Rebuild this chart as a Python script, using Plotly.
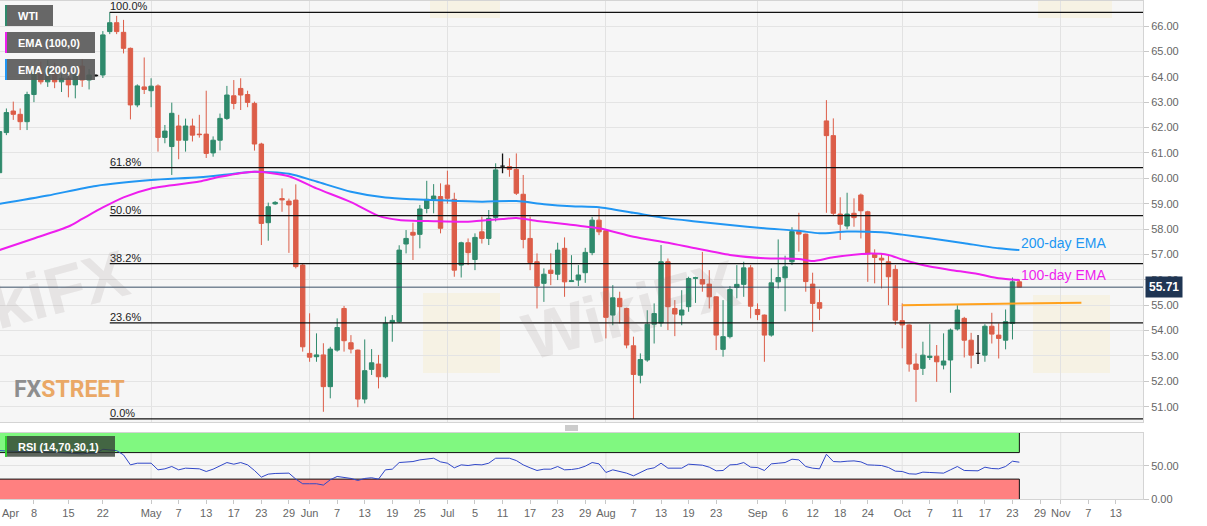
import pandas as pd
import plotly.graph_objects as go

# ---------------- data ----------------
FIRST_DAY = "2019-04-01"
AXIS_LAST_DAY = "2019-11-19"

OPEN = [60.22, 61.80, 62.65, 62.52, 62.23, 63.30, 64.13, 63.80, 64.30, 63.80,
        63.94, 63.68, 64.42, 63.87, 64.05, 64.07, 65.78, 66.13, 65.75, 65.12,
        62.89, 63.60, 63.45, 63.64, 61.61, 61.25, 62.06, 61.50, 62.06, 61.74,
        61.74, 61.00, 61.50, 62.36, 63.25, 63.54, 63.30, 62.95, 61.35, 58.25,
        58.99, 59.20, 59.10, 59.14, 56.58, 53.10, 52.97, 53.04, 51.79, 53.23,
        54.87, 53.52, 53.23, 51.30, 52.47, 52.68, 52.18, 54.31, 54.35, 57.41,
        57.87, 57.79, 58.81, 59.17, 59.28, 59.73, 59.17, 56.58, 57.46, 56.80,
        57.89, 57.63, 58.46, 60.48, 60.46, 60.35, 59.37, 57.63, 56.71, 55.86,
        56.38, 56.22, 57.24, 55.93, 55.99, 56.28, 57.07, 58.35, 57.93, 54.61,
        55.27, 54.87, 53.40, 52.24, 52.84, 54.25, 54.30, 56.71, 54.87, 54.61,
        54.94, 56.06, 56.01, 55.83, 55.33, 53.26, 53.76, 55.70, 55.82, 56.47,
        54.83, 54.61, 53.82, 55.92, 56.08, 56.71, 57.90, 57.80, 55.83, 55.10,
        62.26, 61.68, 58.59, 58.12, 58.62, 59.34, 58.68, 57.02, 56.85, 56.71,
        56.41, 54.39, 54.22, 52.68, 52.51, 52.94, 52.99, 52.64, 52.84, 54.06,
        54.48, 53.62, 53.10, 53.03, 54.17, 53.82, 53.62, 54.28, 55.92]
HIGH = [61.95, 62.75, 63.02, 62.75, 63.41, 64.40, 64.60, 64.65, 64.55, 64.10,
        64.20, 64.30, 64.70, 64.30, 64.10, 65.80, 66.54, 66.40, 66.24, 65.15,
        63.70, 64.76, 63.94, 63.70, 62.10, 62.98, 62.50, 62.35, 62.35, 62.50,
        63.45, 61.65, 62.55, 63.64, 63.87, 63.94, 63.45, 63.02, 61.40, 59.04,
        59.10, 59.60, 59.20, 59.76, 56.65, 54.68, 53.89, 53.50, 53.36, 54.48,
        54.97, 53.82, 53.25, 53.65, 53.27, 53.04, 54.55, 54.61, 57.36, 57.96,
        58.25, 58.95, 59.90, 59.77, 59.80, 60.30, 59.43, 57.50, 57.63, 57.83,
        58.49, 58.75, 60.59, 60.98, 60.79, 60.98, 60.13, 58.49, 57.04, 56.45,
        57.04, 57.46, 57.67, 56.97, 56.58, 57.26, 58.48, 58.81, 57.95, 55.79,
        55.53, 54.90, 53.76, 53.10, 54.80, 55.07, 57.37, 56.84, 55.20, 55.59,
        56.12, 56.12, 57.10, 56.38, 55.35, 55.20, 55.75, 56.58, 56.71, 56.58,
        55.07, 54.63, 56.45, 57.59, 56.95, 58.07, 58.64, 57.82, 56.28, 55.62,
        63.08, 62.36, 59.25, 59.43, 59.21, 59.40, 58.72, 57.20, 57.02, 56.98,
        56.58, 55.07, 54.25, 53.10, 53.56, 54.25, 53.43, 53.89, 54.08, 55.00,
        54.54, 53.91, 53.82, 54.25, 54.70, 54.28, 54.83, 56.09, 56.01]
LOW = [60.15, 61.70, 62.30, 61.90, 61.90, 63.00, 63.70, 63.60, 63.55, 63.40,
       63.19, 63.15, 63.60, 63.50, 64.00, 63.95, 65.68, 65.68, 64.92, 62.32,
       62.80, 63.32, 62.80, 61.05, 61.38, 60.13, 60.75, 61.05, 61.45, 61.60,
       60.80, 60.85, 61.10, 62.30, 62.72, 62.69, 62.80, 61.09, 57.37, 57.54,
       58.95, 58.68, 57.06, 56.45, 53.17, 52.77, 52.77, 50.80, 51.33, 53.17,
       53.17, 53.10, 50.98, 51.13, 52.25, 51.72, 52.12, 53.56, 54.30, 57.04,
       56.78, 57.24, 58.62, 58.62, 57.83, 59.00, 56.12, 56.09, 56.58, 56.38,
       57.43, 57.37, 58.30, 60.20, 60.06, 59.34, 57.24, 56.38, 54.87, 55.13,
       55.79, 55.99, 55.33, 55.92, 55.75, 55.88, 56.97, 57.76, 53.69, 54.21,
       54.28, 53.30, 50.52, 51.92, 52.77, 53.49, 54.15, 54.02, 53.78, 54.21,
       54.74, 55.09, 55.53, 54.87, 53.23, 52.97, 53.69, 55.27, 55.33, 54.48,
       54.41, 52.77, 53.76, 55.66, 54.76, 56.58, 57.11, 55.53, 53.95, 54.41,
       58.64, 58.55, 57.57, 57.99, 58.09, 57.63, 55.92, 55.86, 55.66, 55.00,
       54.22, 53.30, 52.38, 51.19, 52.25, 52.84, 51.98, 52.47, 51.55, 54.00,
       52.94, 52.51, 52.68, 52.77, 53.49, 52.90, 53.26, 53.65, 55.70]
CLOSE = [61.84, 62.59, 62.52, 62.23, 63.30, 64.13, 63.80, 64.35, 63.80, 63.94,
         63.68, 64.07, 63.87, 64.07, 64.05, 65.65, 66.13, 65.78, 65.12, 62.89,
         63.64, 63.50, 63.63, 61.61, 61.86, 62.56, 61.50, 62.06, 61.70, 61.72,
         60.98, 61.50, 62.36, 63.28, 62.95, 63.28, 62.99, 61.35, 58.22, 58.88,
         59.05, 59.15, 58.95, 56.52, 53.36, 52.95, 53.04, 51.79, 53.27, 54.12,
         53.60, 53.27, 51.30, 52.42, 52.73, 52.18, 54.29, 54.40, 57.17, 57.63,
         57.76, 58.79, 59.17, 59.30, 58.03, 59.21, 56.38, 57.46, 57.07, 57.67,
         57.63, 58.42, 60.33, 60.48, 60.35, 59.41, 57.59, 56.68, 55.75, 56.22,
         56.25, 57.17, 55.92, 55.96, 56.19, 57.08, 58.35, 57.89, 54.52, 55.29,
         54.94, 53.43, 52.27, 52.86, 54.25, 54.67, 56.71, 54.94, 54.65, 54.81,
         56.05, 56.08, 55.83, 55.33, 53.82, 53.76, 55.62, 55.82, 56.47, 54.96,
         54.63, 53.82, 55.88, 56.09, 56.51, 57.90, 57.80, 55.93, 55.07, 54.88,
         61.68, 58.62, 58.19, 58.59, 58.45, 58.72, 57.02, 56.88, 56.78, 56.12,
         54.41, 54.22, 52.68, 52.47, 53.03, 52.99, 52.77, 52.80, 54.02, 54.81,
         53.62, 53.03, 53.10, 54.17, 53.86, 53.69, 54.35, 55.92, 55.71]

RSI = [73, 73, 72, 71.5, 72, 72, 71.5, 71.5, 71, 70,
       69, 68.5, 68, 69, 69, 75, 74, 73, 66.5, 51.5,
       54, 54, 54, 44, 45.5, 49, 44, 46.5, 46, 45.5,
       41.5, 45, 50, 55, 52.5, 55, 51.5, 43, 33, 37.5,
       38.5, 39, 39, 30, 23, 23, 23, 21, 29, 34,
       33, 31, 28, 31, 32, 30, 44, 45, 55, 56,
       56.5, 59, 60.5, 61.5, 56, 54, 47, 51.5, 50.5, 52,
       51.5, 54, 61.5, 62, 61.5, 58, 51.5, 47, 43, 45,
       45, 49, 44, 44.5, 46, 49.5, 55, 53, 40, 44,
       41.5, 39, 35, 40, 45, 47, 54, 46.5, 46, 46.5,
       52.5, 52, 51, 48, 42.5, 43, 51.5, 52, 55, 48,
       47.5, 43, 53, 54, 55, 60, 59, 49, 46.5, 45.5,
       67.5, 56.5, 56, 57, 57.5, 56, 51.5, 51, 50.5, 47.5,
       42, 41.5, 38, 37.5, 40.5, 40, 39.5, 39, 44, 49,
       43, 42.5, 42.5, 48, 46, 45.5, 49, 57, 55.5]
RSI_LOW, RSI_HIGH = 30, 70

EMA100_DATES = ["2019-04-01", "2019-04-08", "2019-04-15", "2019-04-17", "2019-04-22",
                "2019-04-25", "2019-05-01", "2019-05-10", "2019-05-15", "2019-05-22",
                "2019-05-29", "2019-06-04", "2019-06-11", "2019-06-17", "2019-06-20",
                "2019-06-27", "2019-07-04", "2019-07-11", "2019-07-15", "2019-07-18",
                "2019-07-24", "2019-07-31", "2019-08-07", "2019-08-14", "2019-08-20",
                "2019-08-27", "2019-09-03", "2019-09-10", "2019-09-12", "2019-09-17",
                "2019-09-24", "2019-09-27", "2019-10-01", "2019-10-07", "2019-10-10",
                "2019-10-16", "2019-10-21", "2019-10-24"]
EMA100 = [57.17, 57.63, 58.10, 58.40, 58.85, 59.25, 59.60, 59.87, 60.06, 60.26,
          60.08, 59.60, 59.06, 58.52, 58.36, 58.31, 58.29, 58.40, 58.43, 58.32,
          58.20, 58.03, 57.70, 57.46, 57.24, 56.98, 56.85, 56.82, 56.74, 56.89,
          57.03, 56.98, 56.80, 56.52, 56.39, 56.23, 56.06, 55.99]

EMA200_DATES = ["2019-04-01", "2019-04-10", "2019-04-19", "2019-05-01", "2019-05-10",
                "2019-05-17", "2019-05-22", "2019-05-29", "2019-06-04", "2019-06-11",
                "2019-06-18", "2019-06-24", "2019-07-01", "2019-07-08", "2019-07-15",
                "2019-07-19", "2019-07-25", "2019-07-31", "2019-08-07", "2019-08-14",
                "2019-08-20", "2019-08-27", "2019-09-03", "2019-09-10", "2019-09-13",
                "2019-09-19", "2019-09-26", "2019-10-01", "2019-10-07", "2019-10-14",
                "2019-10-21", "2019-10-24"]
EMA200 = [58.99, 59.32, 59.70, 59.93, 60.04, 60.18, 60.26, 60.18, 59.87, 59.47,
          59.24, 59.17, 59.12, 59.08, 59.10, 58.98, 58.90, 58.86, 58.64, 58.42,
          58.30, 58.16, 58.03, 57.93, 57.83, 57.90, 57.87, 57.78, 57.64, 57.44,
          57.24, 57.17]

RES_DATES = ["2019-10-01", "2019-11-06"]
RES_VALUES = [55.00, 55.10]

FIB_RATIOS = [0.0, 0.236, 0.382, 0.5, 0.618, 1.0]
FIB_LABELS = ["0.0%", "23.6%", "38.2%", "50.0%", "61.8%", "100.0%"]

TICK_DATES = ["2019-04-01", "2019-04-08", "2019-04-15", "2019-04-22", "2019-05-01",
              "2019-05-07", "2019-05-13", "2019-05-17", "2019-05-23", "2019-05-29",
              "2019-06-03", "2019-06-07", "2019-06-13", "2019-06-19", "2019-06-25",
              "2019-07-01", "2019-07-05", "2019-07-11", "2019-07-17", "2019-07-23",
              "2019-07-29", "2019-08-01", "2019-08-07", "2019-08-13", "2019-08-19",
              "2019-08-23", "2019-09-02", "2019-09-06", "2019-09-12", "2019-09-18",
              "2019-09-24", "2019-10-01", "2019-10-07", "2019-10-11", "2019-10-17",
              "2019-10-23", "2019-10-29", "2019-11-01", "2019-11-07", "2019-11-13"]
TICK_TEXT = ["", "8", "15", "22", "May", "7", "13", "17", "23", "29",
             "Jun", "7", "13", "19", "25", "Jul", "5", "11", "17", "23",
             "29", "Aug", "7", "13", "19", "23", "Sep", "6", "12", "18",
             "24", "Oct", "7", "11", "17", "23", "29", "Nov", "7", "13"]
FIRST_TICK_TEXT = "Apr"
MONTH_STARTS = ["2019-04-01", "2019-05-01", "2019-06-03", "2019-07-01", "2019-08-01",
                "2019-09-02", "2019-10-01", "2019-11-01"]
PRICE_TICKS = list(range(51, 67))

# ---------------- styling / layout helpers ----------------
FONT = "Liberation Sans, Arial, sans-serif"
GREEN = "#2f8a6c"
RED = "#dc5d48"
EMA100_COLOR = "#ee1eee"
EMA200_COLOR = "#2196f3"
W, H = 1207, 526
ML, MR, MT, MB = 0, 64, 1, 27
PW, PH = W - ML - MR, H - MT - MB


def px_x(x):
    return (x - ML) / PW


def px_y(y):
    return (H - MB - y) / PH


cal = pd.bdate_range(FIRST_DAY, AXIS_LAST_DAY).strftime("%Y-%m-%d").tolist()
n = len(CLOSE)
dates = cal[:n]

normal = [i for i in range(n) if OPEN[i] != CLOSE[i]]
doji = [i for i in range(n) if OPEN[i] == CLOSE[i]]


def sel(arr, idx):
    return [arr[i] for i in idx]


fig = go.Figure()

# candles
fig.add_trace(go.Candlestick(
    x=sel(dates, normal), open=sel(OPEN, normal), high=sel(HIGH, normal),
    low=sel(LOW, normal), close=sel(CLOSE, normal),
    xaxis="x2", yaxis="y2", whiskerwidth=0,
    increasing=dict(line=dict(color=GREEN, width=1), fillcolor=GREEN),
    decreasing=dict(line=dict(color=RED, width=1), fillcolor=RED),
    showlegend=False, hoverinfo="skip"))
fig.add_trace(go.Candlestick(
    x=sel(dates, doji), open=sel(OPEN, doji), high=sel(HIGH, doji),
    low=sel(LOW, doji), close=sel(CLOSE, doji),
    xaxis="x2", yaxis="y2", whiskerwidth=0,
    increasing=dict(line=dict(color="#111111", width=1.3), fillcolor="#111111"),
    decreasing=dict(line=dict(color="#111111", width=1.3), fillcolor="#111111"),
    showlegend=False, hoverinfo="skip"))

# EMAs
fig.add_trace(go.Scatter(x=EMA200_DATES, y=EMA200, mode="lines", xaxis="x2", yaxis="y2",
                         line=dict(color=EMA200_COLOR, width=2, shape="spline", smoothing=0.7),
                         showlegend=False, hoverinfo="skip"))
fig.add_trace(go.Scatter(x=EMA100_DATES, y=EMA100, mode="lines", xaxis="x2", yaxis="y2",
                         line=dict(color=EMA100_COLOR, width=2, shape="spline", smoothing=0.7),
                         showlegend=False, hoverinfo="skip"))
# resistance line
fig.add_trace(go.Scatter(x=RES_DATES, y=RES_VALUES, mode="lines", xaxis="x2", yaxis="y2",
                         line=dict(color="#ffa21f", width=2), showlegend=False, hoverinfo="skip"))

# RSI panel
fig.add_trace(go.Scatter(x=[dates[0], dates[-1], dates[-1], dates[0]],
                         y=[RSI_HIGH, RSI_HIGH, 100, 100], fill="toself", fillcolor="#80f880",
                         mode="lines", line=dict(width=0), showlegend=False, hoverinfo="skip"))
fig.add_trace(go.Scatter(x=[dates[0], dates[-1], dates[-1], dates[0]],
                         y=[0, 0, RSI_LOW, RSI_LOW], fill="toself", fillcolor="#ff8080",
                         mode="lines", line=dict(width=0), showlegend=False, hoverinfo="skip"))
fig.add_trace(go.Scatter(x=[dates[0], dates[-1], dates[-1]], y=[RSI_HIGH, RSI_HIGH, 100],
                         mode="lines", line=dict(color="#111", width=1), showlegend=False, hoverinfo="skip"))
fig.add_trace(go.Scatter(x=[dates[0], dates[-1], dates[-1]], y=[RSI_LOW, RSI_LOW, 0],
                         mode="lines", line=dict(color="#111", width=1), showlegend=False, hoverinfo="skip"))
fig.add_trace(go.Scatter(x=dates, y=RSI, mode="lines", line=dict(color="#3047c8", width=1),
                         showlegend=False, hoverinfo="skip"))

shapes = []
annotations = []

# month grid lines in RSI panel
for m in MONTH_STARTS:
    shapes.append(dict(type="line", xref="x", yref="y domain", x0=m, x1=m, y0=0, y1=1,
                       line=dict(color="#e2e2e2", width=1), layer="below"))

# Fibonacci retracement
hi = max(HIGH)
lo = min(LOW)
hi_day = dates[HIGH.index(hi)]
for r, lab in zip(FIB_RATIOS, FIB_LABELS):
    lvl = lo + r * (hi - lo)
    shapes.append(dict(type="line", xref="x2", yref="y2", x0=hi_day, x1=cal[-1], y0=lvl, y1=lvl,
                       line=dict(color="#111111", width=1.2), layer="above"))
    annotations.append(dict(xref="x2", yref="y2", x=hi_day, y=lvl, text=lab, showarrow=False,
                            xanchor="left", yanchor="bottom", xshift=-2, yshift=-2,
                            font=dict(family=FONT, size=11, color="#222")))

# last price line + label
last = CLOSE[-1]
shapes.append(dict(type="line", xref="x2 domain", yref="y2", x0=0, x1=1, y0=last, y1=last,
                   line=dict(color="#3a4f66", width=1), layer="above"))
annotations.append(dict(xref="paper", yref="y2", x=1, y=last, text="<b>%.2f</b>" % last,
                        showarrow=False, xanchor="left", yanchor="middle", xshift=2,
                        bgcolor="#1f3553", borderpad=3,
                        font=dict(family=FONT, size=12, color="white")))

# EMA labels
annotations.append(dict(xref="x2", yref="y2", x=EMA200_DATES[-1], y=EMA200[-1], text="200-day EMA",
                        showarrow=False, xanchor="left", yanchor="middle", yshift=7,
                        font=dict(family=FONT, size=14, color=EMA200_COLOR)))
annotations.append(dict(xref="x2", yref="y2", x=EMA100_DATES[-1], y=EMA100[-1], text="100-day EMA",
                        showarrow=False, xanchor="left", yanchor="middle", yshift=5,
                        font=dict(family=FONT, size=14, color=EMA100_COLOR)))

# watermark-ish decorations
for (x0, y0, x1, y1) in [(423, 293, 500, 373), (1033, 295, 1110, 373), (430, -10, 500, 18),
                         (1038, -10, 1112, 18)]:
    shapes.append(dict(type="rect", xref="paper", yref="paper", x0=px_x(x0), x1=px_x(x1),
                       y0=px_y(y1), y1=px_y(y0), fillcolor="rgba(250,215,110,0.13)",
                       line=dict(width=0), layer="below"))
for (cx, cy, size) in [(630, 310, 66), (20, 300, 66)]:
    annotations.append(dict(xref="paper", yref="paper", x=px_x(cx), y=px_y(cy), text="<b>WikiFX</b>",
                            showarrow=False, textangle=-15, xanchor="center", yanchor="middle",
                            font=dict(family=FONT, size=size, color="rgba(120,105,105,0.13)")))

annotations.append(dict(xref="paper", yref="paper", x=px_x(69), y=px_y(389),
                        xanchor="center", yanchor="middle",
                        text="<b><span style='color:#8e8e8e'>FX</span>"
                             "<span style='color:#eaa866'>STREET</span></b>",
                        showarrow=False, font=dict(family="Roboto, " + FONT, size=23)))

# legend boxes
legend_items = [("WTI", 5, 53, 5, 26, GREEN), ("EMA (100,0)", 5, 95, 32, 53, EMA100_COLOR),
                ("EMA (200,0)", 5, 95, 59, 80, EMA200_COLOR)]
for text, x0, x1, y0, y1, col in legend_items:
    shapes.append(dict(type="rect", xref="paper", yref="paper", x0=px_x(x0), x1=px_x(x1),
                       y0=px_y(y1), y1=px_y(y0), fillcolor="rgba(88,88,88,0.9)",
                       line=dict(width=0), layer="above"))
    shapes.append(dict(type="rect", xref="paper", yref="paper", x0=px_x(x0), x1=px_x(x0 + 2),
                       y0=px_y(y1), y1=px_y(y0), fillcolor=col, line=dict(width=0), layer="above"))
    annotations.append(dict(xref="paper", yref="paper", x=px_x(x0 + 11), y=px_y((y0 + y1) / 2),
                            text="<b>%s</b>" % text, showarrow=False, xanchor="left", yanchor="middle",
                            font=dict(family=FONT, size=11, color="white")))

# RSI label box
shapes.append(dict(type="rect", xref="paper", yref="paper", x0=px_x(5), x1=px_x(115),
                   y0=px_y(456.7), y1=px_y(436), fillcolor="rgba(50,60,50,0.78)",
                   line=dict(width=0), layer="above"))
shapes.append(dict(type="rect", xref="paper", yref="paper", x0=px_x(5), x1=px_x(7),
                   y0=px_y(456.7), y1=px_y(436), fillcolor="#2fd12f", line=dict(width=0), layer="above"))
annotations.append(dict(xref="paper", yref="paper", x=px_x(16), y=px_y(446.5),
                        text="<b>RSI (14,70,30,1)</b>", showarrow=False, xanchor="left",
                        yanchor="middle", font=dict(family=FONT, size=11, color="white")))

# panel resize handle
for yy in (426, 428, 430):
    shapes.append(dict(type="line", xref="paper", yref="paper", x0=px_x(565), x1=px_x(578),
                       y0=px_y(yy), y1=px_y(yy), line=dict(color="#999", width=1)))

# first month label (kept inside the canvas)
annotations.append(dict(xref="paper", yref="paper", x=0, y=0, text=FIRST_TICK_TEXT, showarrow=False,
                        xanchor="left", yanchor="top", yshift=-6,
                        font=dict(family=FONT, size=11, color="#666")))

x_range = [0.073, 165.94]
axis_common = dict(showline=True, linecolor="#d4d4d4", mirror=True, zeroline=False, fixedrange=True)

fig.update_layout(
    width=W, height=H,
    margin=dict(l=ML, r=MR, t=MT, b=MB, autoexpand=False),
    paper_bgcolor="white", plot_bgcolor="#f6f6f6",
    boxgap=0.2, boxgroupgap=0.2,
    showlegend=False,
    font=dict(family=FONT, size=11, color="#666"),
    shapes=shapes, annotations=annotations,
    xaxis=dict(type="category", categoryorder="array", categoryarray=cal, range=x_range,
               domain=[0, 1], anchor="y", tickmode="array", tickvals=TICK_DATES, ticktext=TICK_TEXT,
               ticks="outside", ticklen=4, tickcolor="#c8c8c8", showgrid=False,
               tickfont=dict(family=FONT, size=11, color="#666"),
               rangeslider=dict(visible=False), **axis_common),
    xaxis2=dict(type="category", categoryorder="array", categoryarray=cal, matches="x",
                anchor="y2", tickmode="array", tickvals=MONTH_STARTS, showticklabels=False,
                ticks="", showgrid=True, gridcolor="#e2e2e2",
                rangeslider=dict(visible=False), **axis_common),
    yaxis=dict(domain=[0, px_y(432.7)], range=[0, 100], side="right", anchor="x",
               tickmode="array", tickvals=[0, 50], ticktext=["0.00", "50.00"],
               ticks="outside", ticklen=5, tickcolor="#c8c8c8", showgrid=True, gridcolor="#e2e2e2",
               tickfont=dict(family=FONT, size=11, color="#666"), **axis_common),
    yaxis2=dict(domain=[px_y(422), 1], range=[50.397, 66.985], side="right", anchor="x2",
                tickmode="array", tickvals=PRICE_TICKS, tickformat=".2f",
                ticks="outside", ticklen=5, tickcolor="#c8c8c8", showgrid=True, gridcolor="#e4e4e4",
                tickfont=dict(family=FONT, size=11, color="#666"), **axis_common),
)

fig.write_html("out.html", config={"displayModeBar": False, "staticPlot": True},
               post_script="document.body.style.margin='0px';document.body.style.overflow='hidden';")
